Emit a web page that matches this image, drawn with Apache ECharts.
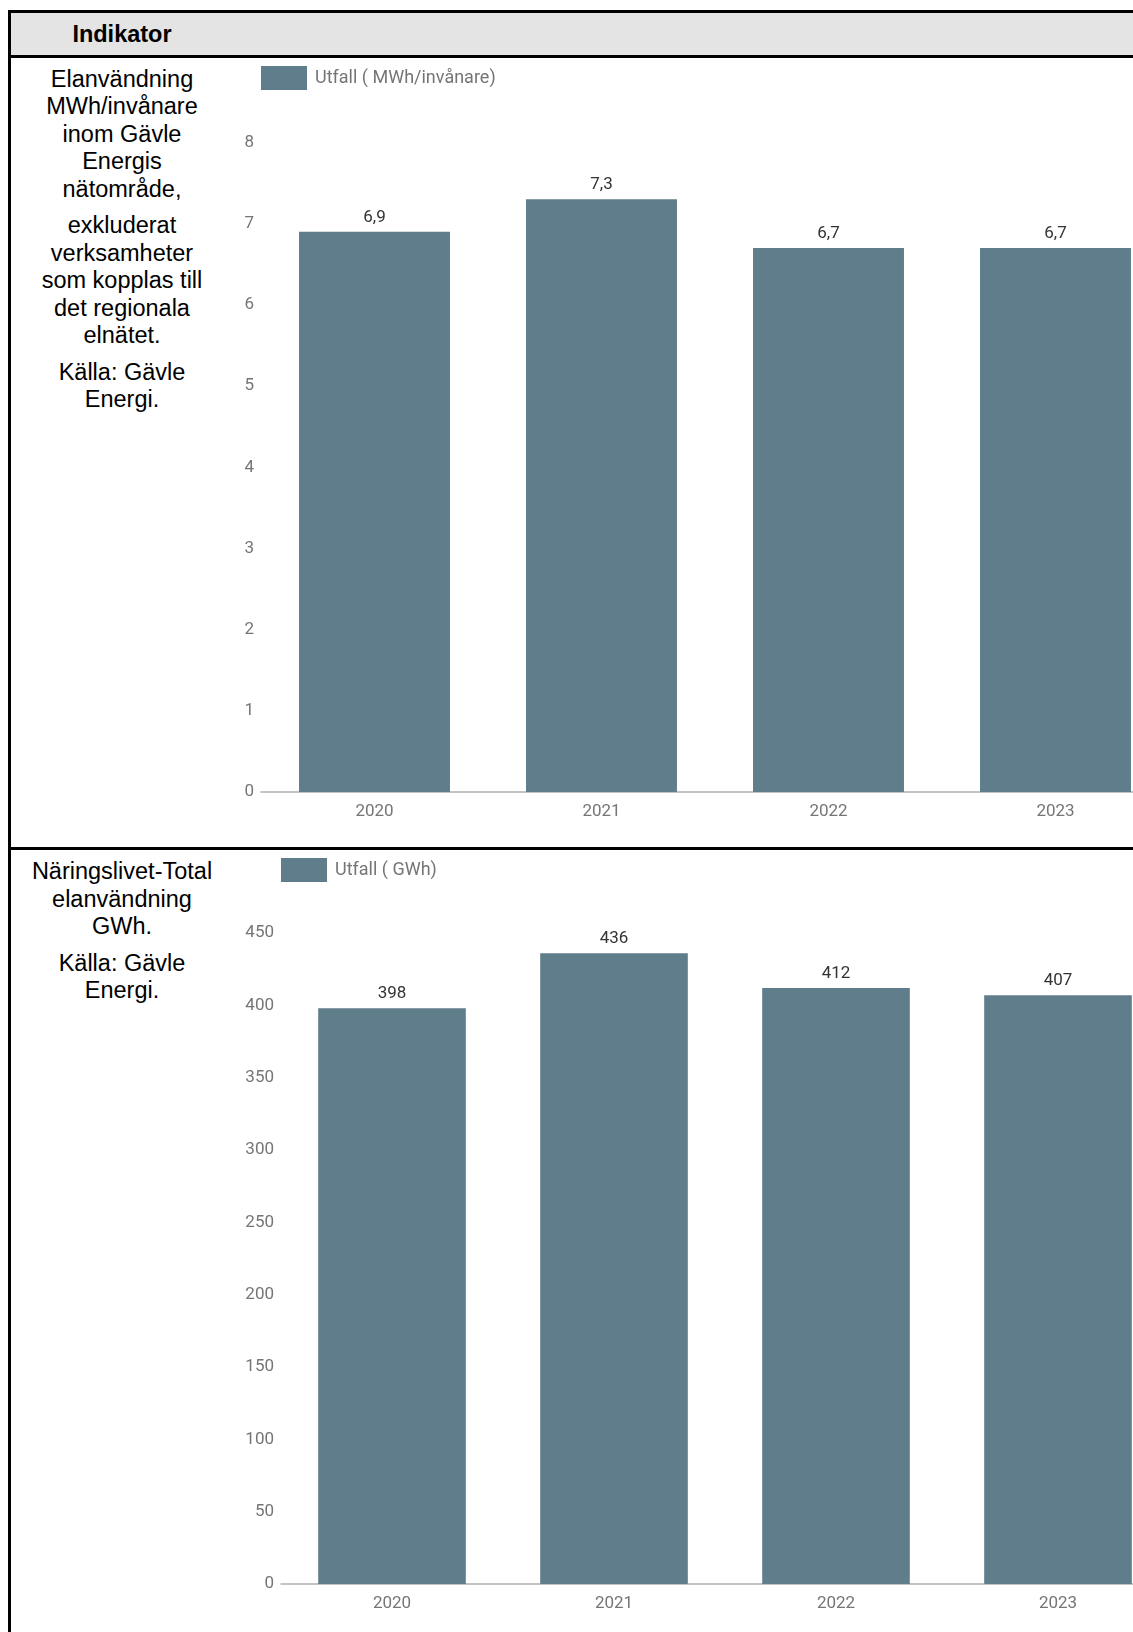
<!DOCTYPE html>
<html>
<head>
<meta charset="utf-8">
<script src="https://cdn.jsdelivr.net/npm/echarts@6/dist/echarts.min.js"></script>
<style>
  html, body { margin: 0; padding: 0; width: 1133px; height: 1632px; overflow: hidden; background: #fff; }
  .ln { position: absolute; background: #000; }
  .col { position: absolute; left: 12px; width: 220px; text-align: center; font-family: Arial, "Liberation Sans", sans-serif; font-size: 23.5px; line-height: 27.5px; color: #000; white-space: nowrap; }
  .col p { margin: 0 0 9px 0; }
  #hdrbg { position: absolute; left: 10px; top: 12px; width: 1130px; height: 44px; background: #e4e4e4; }
  #hdr { top: 21px; font-weight: bold; }
  #chart { position: absolute; left: 0; top: 0; width: 1200px; height: 1632px; }
</style>
</head>
<body>
<div id="hdrbg"></div>
<div class="ln" style="left:9px; top:10px; width:1130px; height:2.5px;"></div>
<div class="ln" style="left:8px; top:10px; width:3px; height:1640px;"></div>
<div class="ln" style="left:9px; top:55px; width:1130px; height:3px;"></div>
<div class="ln" style="left:9px; top:846.5px; width:1130px; height:3px;"></div>
<div class="col" id="hdr">Indikator</div>
<div class="col" style="top:65.5px;">
  <p>Elanvändning<br>MWh/invånare<br>inom Gävle<br>Energis<br>nätområde,</p>
  <p>exkluderat<br>verksamheter<br>som kopplas till<br>det regionala<br>elnätet.</p>
  <p>Källa: Gävle<br>Energi.</p>
</div>
<div class="col" style="top:858px;">
  <p>Näringslivet-Total<br>elanvändning<br>GWh.</p>
  <p>Källa: Gävle<br>Energi.</p>
</div>
<div id="chart"></div>
<script>
// ---- data ----
const years = ['2020', '2021', '2022', '2023'];
const perCapita = [6.9, 7.3, 6.7, 6.7];          // MWh/invånare
const businessTotal = [398, 436, 412, 407];       // GWh
const perCapitaName = 'Utfall ( MWh/invånare)';
const businessName = 'Utfall ( GWh)';
const perCapitaMax = 8, perCapitaStep = 1;
const businessMax = 450, businessStep = 50;

const barColor = '#607d8b';
const tickFont = { fontFamily: 'Roboto', fontSize: 17, color: '#757575' };
const valueFont = { fontFamily: 'Roboto', fontSize: 17, color: '#333333' };
const legendFont = { fontFamily: 'Roboto', fontSize: 18, color: '#757575', padding: [2, 0, 0, 3] };
const fmtComma = p => String(p.value).replace('.', ',');

const chart = echarts.init(document.getElementById('chart'), null, { renderer: 'canvas' });

function xAxisFor(gi) {
  return {
    type: 'category', gridIndex: gi, data: years,
    axisLine: { show: true, lineStyle: { color: '#b0b0b0', width: 1.5 } },
    axisTick: { show: false },
    axisLabel: Object.assign({ margin: 11 }, tickFont),
    splitLine: { show: false }
  };
}
function yAxisFor(gi, max, step) {
  return {
    type: 'value', gridIndex: gi, min: 0, max: max, interval: step,
    axisLine: { show: false }, axisTick: { show: false },
    axisLabel: Object.assign({ margin: 7, padding: [2, 0, 0, 0] }, tickFont),
    splitLine: { show: false }
  };
}

chart.setOption({
  animation: false,
  grid: [
    { left: 261, top: 142.5, width: 908, height: 649.5, containLabel: false, outerBoundsMode: 'none' },
    { left: 281, top: 933, width: 888, height: 651, containLabel: false, outerBoundsMode: 'none' }
  ],
  legend: [
    { data: [perCapitaName], left: 261, top: 66, itemWidth: 46, itemHeight: 24, icon: 'rect', padding: 0,
      textStyle: legendFont },
    { data: [businessName], left: 281, top: 858, itemWidth: 46, itemHeight: 24, icon: 'rect', padding: 0,
      textStyle: legendFont }
  ],
  xAxis: [xAxisFor(0), xAxisFor(1)],
  yAxis: [yAxisFor(0, perCapitaMax, perCapitaStep), yAxisFor(1, businessMax, businessStep)],
  series: [
    { name: perCapitaName, type: 'bar', xAxisIndex: 0, yAxisIndex: 0, data: perCapita,
      barCategoryGap: '33.5%', itemStyle: { color: barColor },
      label: Object.assign({ show: true, position: 'top', distance: 6, formatter: fmtComma }, valueFont) },
    { name: businessName, type: 'bar', xAxisIndex: 1, yAxisIndex: 1, data: businessTotal,
      barCategoryGap: '33.5%', itemStyle: { color: barColor },
      label: Object.assign({ show: true, position: 'top', distance: 6 }, valueFont) }
  ]
});
</script>
</body>
</html>
